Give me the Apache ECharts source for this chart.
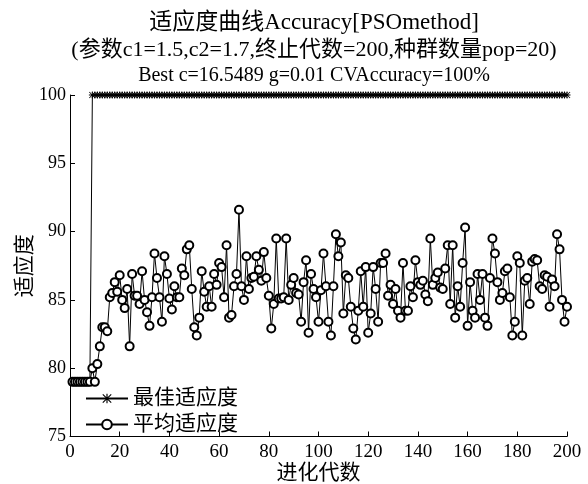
<!DOCTYPE html>
<html>
<head>
<meta charset="utf-8">
<script src="https://cdn.jsdelivr.net/npm/echarts@6/dist/echarts.min.js"></script>
<style>
  html, body { margin: 0; padding: 0; background: #fff; }
  #main { width: 588px; height: 484px; }
</style>
</head>
<body>
<div id="main"></div>
<script>
// generation index 1..200
var generations = [];
for (var g = 1; g <= 200; g++) generations.push(g);

var bestFitness = [
  79, 79, 79, 79, 79, 79, 79, 79, 100, 100,
  100, 100, 100, 100, 100, 100, 100, 100, 100, 100,
  100, 100, 100, 100, 100, 100, 100, 100, 100, 100,
  100, 100, 100, 100, 100, 100, 100, 100, 100, 100,
  100, 100, 100, 100, 100, 100, 100, 100, 100, 100,
  100, 100, 100, 100, 100, 100, 100, 100, 100, 100,
  100, 100, 100, 100, 100, 100, 100, 100, 100, 100,
  100, 100, 100, 100, 100, 100, 100, 100, 100, 100,
  100, 100, 100, 100, 100, 100, 100, 100, 100, 100,
  100, 100, 100, 100, 100, 100, 100, 100, 100, 100,
  100, 100, 100, 100, 100, 100, 100, 100, 100, 100,
  100, 100, 100, 100, 100, 100, 100, 100, 100, 100,
  100, 100, 100, 100, 100, 100, 100, 100, 100, 100,
  100, 100, 100, 100, 100, 100, 100, 100, 100, 100,
  100, 100, 100, 100, 100, 100, 100, 100, 100, 100,
  100, 100, 100, 100, 100, 100, 100, 100, 100, 100,
  100, 100, 100, 100, 100, 100, 100, 100, 100, 100,
  100, 100, 100, 100, 100, 100, 100, 100, 100, 100,
  100, 100, 100, 100, 100, 100, 100, 100, 100, 100,
  100, 100, 100, 100, 100, 100, 100, 100, 100, 100
];

var avgFitness = [
  79, 79, 79, 79, 79, 79, 79, 79, 80.0, 79.0,
  80.3, 81.6, 83.0, 83.0, 82.7, 85.2, 85.5, 86.3, 85.6, 86.8,
  85.0, 84.4, 85.8, 81.6, 86.9, 85.3, 85.3, 84.7, 87.1, 85.0,
  84.1, 83.1, 85.2, 88.4, 86.6, 85.2, 83.4, 88.2, 86.9, 85.1,
  84.3, 86.0, 85.2, 85.2, 87.3, 86.8, 88.7, 89.0, 85.8, 83.0,
  82.4, 83.7, 87.1, 85.6, 84.5, 86.0, 84.5, 86.9, 86.1, 87.7,
  87.4, 85.2, 89.0, 83.7, 83.9, 86.0, 86.9, 91.6, 86.0, 85.0,
  88.2, 85.8, 86.6, 86.7, 88.2, 87.2, 86.4, 88.5, 86.6, 85.3,
  82.9, 84.7, 89.5, 85.1, 85.1, 85.2, 89.5, 85.0, 86.1, 86.6,
  85.5, 85.4, 83.4, 86.3, 87.9, 82.6, 86.9, 85.8, 85.2, 83.4,
  85.7, 88.4, 86.0, 83.4, 82.4, 86.0, 89.8, 88.2, 89.2, 84.0,
  86.8, 86.6, 84.5, 82.9, 82.1, 84.2, 87.1, 84.5, 87.4, 82.6,
  84.0, 87.4, 85.8, 83.4, 87.7, 87.7, 88.4, 85.3, 86.1, 84.7,
  85.8, 84.2, 83.7, 87.7, 84.2, 84.2, 86.0, 85.2, 87.9, 86.3,
  86.1, 86.4, 85.4, 84.9, 89.5, 86.1, 86.6, 87.0, 85.9, 85.8,
  87.3, 89.0, 84.7, 89.0, 83.7, 86.0, 84.5, 87.7, 90.3, 83.1,
  86.3, 84.2, 83.7, 86.9, 85.0, 86.9, 83.7, 83.1, 86.6, 89.5,
  88.4, 86.3, 85.0, 85.5, 87.1, 87.3, 85.2, 82.4, 83.4, 88.2,
  87.7, 82.4, 86.4, 86.6, 84.7, 87.8, 88.0, 87.9, 86.0, 85.8,
  86.8, 86.7, 84.5, 86.5, 86.0, 89.8, 88.7, 85.0, 83.4, 84.5
];

var seriesNames = ['最佳适应度', '平均适应度'];
var titleLines = [
  '适应度曲线Accuracy[PSOmethod]',
  '(参数c1=1.5,c2=1.7,终止代数=200,种群数量pop=20)',
  'Best c=16.5489 g=0.01 CVAccuracy=100%'
];
// per line font size / top, the CJK lines are rendered wider in the original
var titleSizes = [23, 22, 20];
var titleTops = [11, 39, 66];

var FONT = "'Liberation Serif', 'Noto Sans CJK SC', serif";
var asterisk = 'path://M4.4 0H5.6V10H4.4Z M0 4.4H10V5.6H0Z M1 0.2L9.8 9L9 9.8L0.2 1Z M9 0.2L9.8 1L1 9.8L0.2 9Z';

function pairs (ys) {
  return generations.map(function (x, i) { return [x, ys[i]] })
}

var chart = echarts.init(document.getElementById('main'))
chart.setOption({
  animation: false,
  backgroundColor: '#fff',
  title: titleLines.map(function (t, i) {
    return {
      text: t,
      left: 314,
      top: titleTops[i],
      textAlign: 'center',
      padding: 0,
      textStyle: { fontFamily: FONT, fontSize: titleSizes[i], fontWeight: 'normal', color: '#000' }
    }
  }),
  legend: {
    orient: 'vertical',
    left: 85,
    top: 388,
    itemWidth: 42,
    itemHeight: 12,
    itemGap: 5,
    padding: 0,
    data: seriesNames,
    textStyle: { fontFamily: FONT, fontSize: 21, color: '#000' }
  },
  grid: { left: 70, right: 21, top: 95, bottom: 47.5, containLabel: false, outerBoundsMode: 'none' },
  xAxis: {
    type: 'value',
    min: 0,
    max: 200,
    interval: 20,
    name: '进化代数',
    nameLocation: 'middle',
    nameGap: 26,
    nameMoveOverlap: false,
    nameTextStyle: { fontFamily: FONT, fontSize: 21, color: '#000' },
    axisLine: { lineStyle: { color: '#000', width: 1 } },
    axisTick: { inside: true, length: 5, lineStyle: { color: '#000' } },
    axisLabel: { fontFamily: FONT, fontSize: 19, color: '#000', margin: 6 },
    splitLine: { show: false }
  },
  yAxis: {
    type: 'value',
    min: 75,
    max: 100,
    interval: 5,
    name: '适应度',
    nameLocation: 'middle',
    nameGap: 34,
    nameMoveOverlap: false,
    nameTextStyle: { fontFamily: FONT, fontSize: 21, color: '#000' },
    axisLine: { show: true, lineStyle: { color: '#000', width: 1 } },
    axisTick: { show: true, inside: true, length: 5, lineStyle: { color: '#000' } },
    axisLabel: { fontFamily: FONT, fontSize: 18, color: '#000', margin: 4 },
    splitLine: { show: false }
  },
  series: [
    {
      name: seriesNames[0],
      type: 'line',
      data: pairs(bestFitness),
      symbol: asterisk,
      symbolSize: 7,
      showAllSymbol: true,
      itemStyle: { color: '#000' },
      lineStyle: { color: '#000', width: 1 }
    },
    {
      name: seriesNames[1],
      type: 'line',
      data: pairs(avgFitness),
      symbol: 'emptyCircle',
      symbolSize: 8,
      showAllSymbol: true,
      itemStyle: { color: '#000', borderColor: '#000', borderWidth: 1 },
      lineStyle: { color: '#000', width: 1 }
    }
  ]
})
</script>
</body>
</html>
